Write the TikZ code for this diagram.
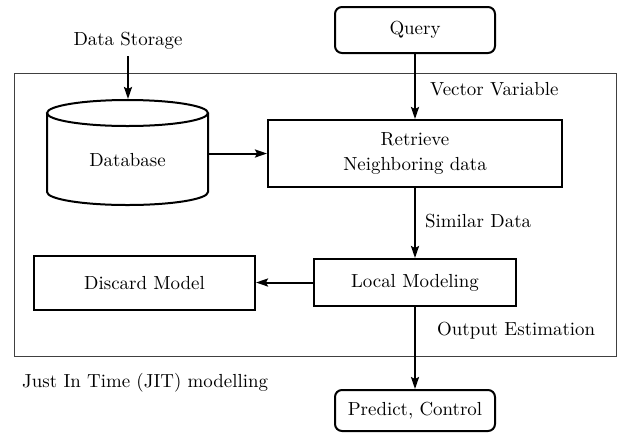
\documentclass[tikz,border=0pt]{standalone}
\usepackage{fontspec}
\setmainfont{lmroman10-regular.otf}
\usetikzlibrary{arrows.meta}
\begin{document}
\begin{tikzpicture}[x=1pt,y=-1pt,
  font=\rmfamily\fontsize{18.9}{25}\selectfont,
  box/.style={draw,line width=2pt,inner sep=0pt,align=center},
  rbox/.style={box,rounded corners=7pt},
  arr/.style={line width=2pt,-{Stealth[length=12pt,width=8pt,inset=2pt]}},
  lbl/.style={inner sep=0pt,anchor=base west}]
\useasboundingbox (0,0) rectangle (617,432);
% outer frame
\draw[line width=1pt,draw=black!75] (14,73) rectangle (616,356);
% nodes
\node[rbox,minimum width=160pt,minimum height=46pt] (query) at (415,30) {Query};
\node[box,minimum width=294pt,minimum height=67pt] (ret) at (415,153.5) {Retrieve\\Neighboring data};
\node[box,minimum width=202pt,minimum height=47pt] (loc) at (415,282.5) {Local Modeling};
\node[box,minimum width=221pt,minimum height=54pt] (disc) at (144.5,283) {Discard Model};
\node[rbox,minimum width=160pt,minimum height=41pt] (pred) at (415,410.5) {Predict, Control};
% database cylinder
\draw[line width=2pt] (47,113) -- (47,192) arc[start angle=180,end angle=360,x radius=80.5,y radius=-13] -- (208,113);
\draw[line width=2pt] (127.5,113) ellipse[x radius=80.5,y radius=13];
\node[inner sep=0pt,minimum width=161pt,minimum height=92pt] (db) at (127.5,160) {Database};
% labels
\node[inner sep=0pt,anchor=base] (ds) at (128,45) {Data Storage};
\node[lbl] (vv) at (430,95) {Vector Variable};
\node[lbl] (sd) at (425,227) {Similar Data};
\node[lbl] (oe) at (437,335) {Output Estimation};
\node[lbl] (jit) at (22,387) {Just In Time (JIT) modelling};
% arrows
\coordinate (dsb) at (128,56);
\coordinate (dbt) at (128,99);
\draw[arr] (dsb) -- (dbt);
\draw[arr] (query) -- (ret);
\draw[arr] (db.east |- ret.west) -- (ret.west);
\draw[arr] (ret) -- (loc);
\draw[arr] (loc.west) -- (disc.east |- loc.west);
\draw[arr] (loc) -- (pred);
\end{tikzpicture}
\end{document}
